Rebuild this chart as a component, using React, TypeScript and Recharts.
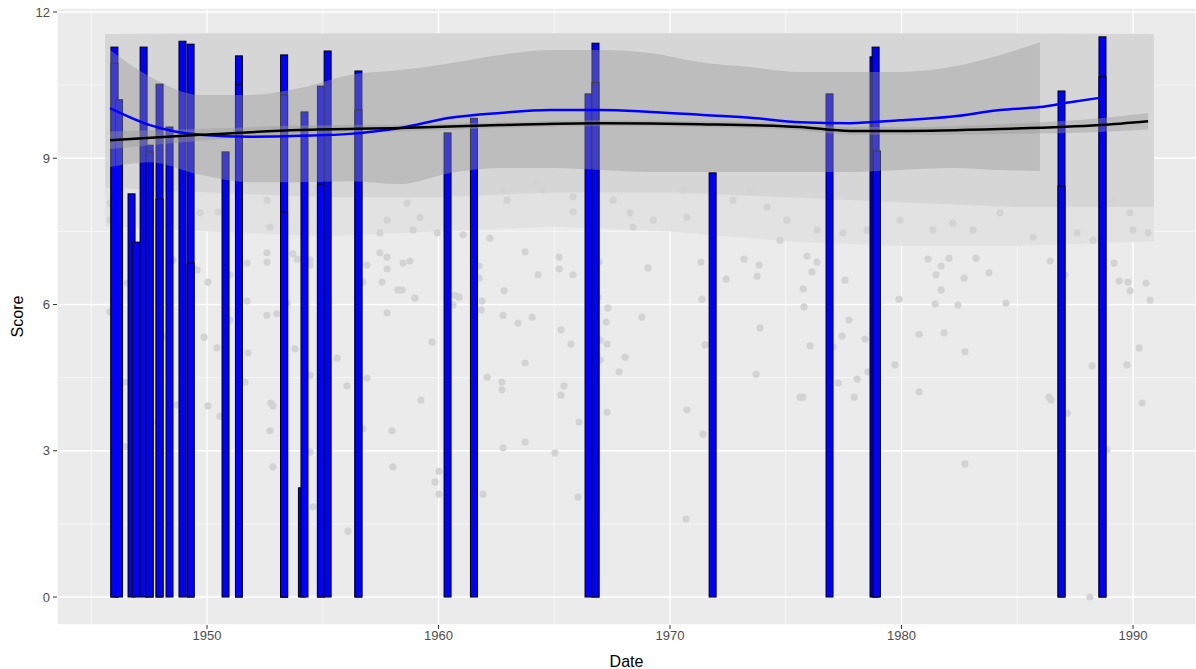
import {
  ComposedChart,
  Bar,
  Line,
  Area,
  Scatter,
  XAxis,
  YAxis,
  CartesianGrid,
} from "recharts";

// bars (geom_col, identity position, overlapping)
const barYears = [
  1946.0, 1946.0, 1946.2, 1946.74, 1946.93, 1947.26, 1947.52, 1947.52, 1947.95, 1947.95,
  1948.38, 1948.94, 1949.29, 1949.29, 1950.8, 1951.38, 1951.38, 1953.33, 1953.33, 1953.33,
  1954.1, 1954.21, 1954.92, 1954.92, 1955.21, 1956.54, 1956.54, 1960.39, 1961.53, 1966.48,
  1966.78, 1966.78, 1971.84, 1976.89, 1978.79, 1978.88, 1978.94, 1986.91, 1986.91, 1988.68,
  1988.68,
];
const barScores = [
  11.28, 10.95, 10.2, 8.27, 7.28, 11.28, 9.27, 9.13, 10.52, 8.16,
  9.64, 11.4, 11.34, 6.85, 9.13, 11.1, 10.52, 11.12, 10.3, 7.9,
  2.24, 9.95, 10.48, 8.47, 11.2, 10.79, 9.99, 9.52, 9.82, 10.32,
  11.36, 10.55, 8.7, 10.32, 11.08, 11.28, 9.15, 10.38, 8.43, 11.49,
  10.67,
];

// dense point cloud envelope
const cloudYears = [1945.6, 1950, 1955, 1960, 1965, 1970, 1975, 1980, 1985, 1990.9];
const cloudTop = [11.55, 11.56, 11.56, 11.56, 11.56, 11.56, 11.56, 11.56, 11.56, 11.55];
const cloudDenseLow = [8.4, 8.3, 8.2, 8.2, 8.3, 8.3, 8.2, 8.1, 8.0, 8.0];
const cloudFringeLow = [7.6, 7.5, 7.4, 7.5, 7.6, 7.5, 7.3, 7.2, 7.2, 7.3];

// points along the lower edge of the cloud [year, score]
const fringePoints: [number, number][] = [
  [1945.81, 8.08], [1945.81, 7.73], [1952.59, 8.14], [1952.72, 7.59], [1957.78, 7.73],
  [1957.47, 7.47], [1949.7, 7.88], [1950.48, 7.9], [1964.25, 8.51], [1964.51, 8.35],
  [1965.81, 8.21], [1965.81, 7.9], [1967.54, 8.14], [1968.27, 7.88], [1968.4, 7.59],
  [1969.27, 7.73], [1970.56, 8.35], [1970.73, 7.79], [1972.72, 8.14], [1973.46, 8.31],
  [1974.19, 8.0], [1974.75, 7.32], [1975.05, 7.73], [1958.64, 8.08], [1959.2, 7.79],
  [1958.9, 7.53], [1959.94, 7.47], [1961.06, 7.43], [1962.22, 7.36], [1962.79, 8.35],
  [1962.96, 8.14], [1966.67, 7.47], [1976.35, 7.53], [1977.47, 7.47], [1978.51, 7.53],
  [1979.94, 7.73], [1981.36, 7.53], [1982.22, 7.67], [1983.09, 7.53], [1984.25, 7.88],
  [1985.68, 7.38], [1987.58, 7.47], [1989.87, 7.88], [1990.0, 7.53], [1990.65, 7.47],
  [1988.27, 7.32], [1989.14, 8.14],
];

// scattered points below the cloud [year, score]
const scatterPoints: [number, number][] = [
  [1952.59, 7.06], [1952.59, 6.87], [1953.71, 7.04], [1953.89, 6.93], [1954.45, 6.91],
  [1954.45, 6.81], [1951.73, 6.85], [1957.47, 7.06], [1957.78, 6.97], [1956.91, 6.81],
  [1957.56, 6.46], [1956.74, 6.46], [1957.78, 6.73], [1958.25, 6.3], [1948.53, 6.91],
  [1949.57, 6.71], [1950.04, 6.46], [1950.99, 6.61], [1950.99, 5.68], [1951.73, 6.07],
  [1952.59, 5.78], [1953.02, 5.81], [1953.46, 6.03], [1957.78, 5.83], [1949.87, 5.33],
  [1950.43, 5.11], [1951.77, 5.01], [1953.8, 5.09], [1955.62, 4.9], [1956.91, 4.49],
  [1956.05, 4.33], [1951.64, 4.41], [1954.45, 4.55], [1952.76, 3.98], [1952.85, 3.92],
  [1950.04, 3.92], [1950.56, 3.71], [1948.7, 3.94], [1952.72, 3.41], [1956.74, 3.45],
  [1957.99, 3.41], [1954.45, 2.97], [1952.85, 2.67], [1958.03, 2.67], [1945.81, 5.85],
  [1946.54, 6.44], [1948.1, 5.33], [1946.46, 4.41], [1947.67, 3.59], [1946.46, 3.08],
  [1954.58, 1.85], [1956.09, 1.35], [1958.47, 6.85], [1958.77, 6.89], [1958.42, 6.3],
  [1958.98, 6.13], [1959.72, 5.23], [1959.24, 4.04], [1960.02, 2.58], [1959.85, 2.36],
  [1960.02, 2.11], [1960.71, 6.19], [1960.89, 6.15], [1960.63, 5.99], [1961.75, 6.79],
  [1961.75, 6.54], [1961.88, 6.07], [1961.84, 5.89], [1962.83, 6.28], [1962.79, 5.78],
  [1963.43, 5.62], [1964.04, 5.74], [1963.74, 4.8], [1962.1, 4.51], [1962.74, 4.41],
  [1962.74, 4.25], [1963.74, 3.18], [1962.79, 3.06], [1961.92, 2.11], [1963.74, 7.08],
  [1964.3, 6.61], [1965.21, 6.97], [1965.21, 6.73], [1965.81, 6.61], [1965.29, 5.48],
  [1965.72, 5.19], [1965.42, 4.33], [1965.29, 4.14], [1966.07, 3.59], [1965.03, 2.95],
  [1966.03, 2.05], [1966.93, 6.87], [1966.89, 6.15], [1967.32, 5.93], [1967.24, 5.64],
  [1966.98, 5.27], [1967.28, 5.19], [1966.98, 4.86], [1968.06, 4.92], [1967.8, 4.62],
  [1967.28, 3.79], [1969.05, 6.75], [1968.79, 5.74], [1971.34, 6.87], [1971.38, 6.11],
  [1971.51, 5.17], [1970.73, 3.84], [1971.43, 3.34], [1973.2, 6.93], [1973.85, 6.81],
  [1973.76, 6.58], [1973.89, 5.52], [1973.72, 4.57], [1972.42, 6.52], [1975.62, 4.1],
  [1970.69, 1.6], [1975.92, 6.99], [1976.35, 6.87], [1976.13, 6.67], [1975.75, 6.32],
  [1975.79, 5.95], [1977.56, 6.5], [1977.73, 5.68], [1977.43, 5.35], [1978.42, 5.29],
  [1976.05, 5.15], [1977.04, 5.13], [1978.55, 4.62], [1978.08, 4.47], [1977.26, 4.39],
  [1975.75, 4.1], [1977.95, 4.1], [1979.89, 6.11], [1980.76, 5.39], [1979.72, 4.76],
  [1980.76, 4.21], [1981.14, 6.93], [1982.05, 6.95], [1981.71, 6.79], [1981.49, 6.61],
  [1981.71, 6.3], [1981.45, 6.01], [1982.44, 5.99], [1981.84, 5.42], [1982.74, 5.03],
  [1982.7, 6.54], [1983.22, 6.95], [1983.78, 6.65], [1984.51, 6.03], [1982.74, 2.73],
  [1986.42, 6.89], [1987.06, 6.61], [1986.37, 4.1], [1986.46, 4.04], [1987.15, 3.77],
  [1988.23, 4.74], [1989.18, 6.85], [1989.4, 6.48], [1989.78, 6.46], [1989.87, 6.28],
  [1990.26, 5.11], [1989.74, 4.76], [1990.39, 3.98], [1988.88, 3.02], [1988.14, 0.0],
  [1990.56, 6.44], [1990.73, 6.09],
];

// loess smooth (blue) with its ribbon
const blueYears = [
  1945.81, 1947.54, 1949.7, 1951.86, 1954.02, 1956.18, 1958.34, 1960.5, 1962.66, 1964.82,
  1966.98, 1969.14, 1971.3, 1973.46, 1975.62, 1977.78, 1979.94, 1982.1, 1984.26, 1985.98,
  1987.28, 1988.57,
];
const blueFit = [
  10.03, 9.68, 9.48, 9.44, 9.46, 9.5, 9.62, 9.83, 9.93, 9.99,
  9.99, 9.95, 9.89, 9.83, 9.74, 9.72, 9.78, 9.85, 9.99, 10.05,
  10.15, 10.24,
];
const blueHigh = [
  11.22, 10.67, 10.3, 10.3, 10.44, 10.71, 10.81, 10.95, 11.12, 11.22,
  11.22, 11.16, 10.97, 10.87, 10.77, 10.77, 10.77, 10.87, 11.12, 11.38,
];
const blueLow = [
  8.82, 8.92, 8.66, 8.51, 8.51, 8.53, 8.47, 8.7, 8.8, 8.8,
  8.76, 8.72, 8.72, 8.72, 8.72, 8.72, 8.76, 8.8, 8.76, 8.74,
];

// wider smooth (black) with narrow ribbon
const blackYears = [
  1945.81, 1949.7, 1954.02, 1958.34, 1962.66, 1966.98, 1971.3, 1975.62, 1977.78, 1979.94,
  1984.26, 1988.57, 1990.65,
];
const blackFit = [9.37, 9.48, 9.58, 9.62, 9.68, 9.72, 9.7, 9.64, 9.56, 9.56, 9.6, 9.68, 9.76];
const blackHalf = [0.18, 0.12, 0.09, 0.07, 0.06, 0.06, 0.06, 0.07, 0.08, 0.08, 0.1, 0.14, 0.17];

const xTicks = [1950, 1960, 1970, 1980, 1990];
const xMinor = [1945, 1955, 1965, 1975, 1985];
const yTicks = [0, 3, 6, 9, 12];
const yMinor = [1.5, 4.5, 7.5, 10.5];

const barData = barYears.map((year, i) => ({ year, score: barScores[i] }));
const cloudData = cloudYears.map((year, i) => ({
  year,
  dense: [cloudDenseLow[i], cloudTop[i]],
  fringe: [cloudFringeLow[i], cloudTop[i]],
}));
const pointData = [...fringePoints, ...scatterPoints].map(([year, score]) => ({ year, score }));
const blueLineData = blueYears.map((year, i) => ({ year, fit: blueFit[i] }));
const blueBandData = blueHigh.map((hi, i) => ({ year: blueYears[i], band: [blueLow[i], hi] }));
const blackLineData = blackYears.map((year, i) => ({ year, fit: blackFit[i] }));
const blackBandData = blackYears.map((year, i) => ({
  year,
  band: [blackFit[i] - blackHalf[i], blackFit[i] + blackHalf[i]],
}));

const font = "'Liberation Sans', Arial, sans-serif";
const BAR_PX = 7;

const Dot = (props: any) => <circle cx={props.cx} cy={props.cy} r={3.6} fill="#D3D3D3" />;

// bars sit on a numeric axis with repeated x values, so recharts gives them no band;
// keep its x centre / y / height and draw a fixed-width column around it
const Column = (props: any) => {
  const { x, y, width, height } = props;
  if (height == null || isNaN(height)) return null;
  const cx = x + (width || 0) / 2;
  return (
    <rect
      x={cx - BAR_PX / 2}
      y={y}
      width={BAR_PX}
      height={height}
      fill="#0000FF"
      stroke="#000000"
      strokeWidth={1}
    />
  );
};

export default function App() {
  return (
    <div style={{ position: "absolute", left: 0, top: 0, width: 1196, height: 669, background: "#fff", fontFamily: font }}>
      <ComposedChart
        width={1196}
        height={669}
        data={barData}
        margin={{ top: 8, right: 0, bottom: 0, left: 0 }}
      >
        <CartesianGrid
          fill="#EBEBEB"
          stroke="#FFFFFF"
          strokeWidth={0.6}
          verticalValues={xMinor}
          horizontalValues={yMinor}
        />
        <CartesianGrid stroke="#FFFFFF" strokeWidth={1.3} fill="none" />
        <XAxis
          type="number"
          dataKey="year"
          domain={[1943.52, 1992.72]}
          allowDataOverflow
          ticks={xTicks}
          height={44}
          axisLine={false}
          tickLine={{ stroke: "#333333" }}
          tickSize={4}
          tickMargin={2}
          tick={{ fill: "#4D4D4D", fontSize: 13, fontFamily: font }}
          label={{ value: "Date", position: "insideBottom", offset: 2, fill: "#000", fontSize: 16, fontFamily: font }}
        />
        <YAxis
          type="number"
          dataKey="score"
          domain={[-0.574, 12.082]}
          allowDataOverflow
          ticks={yTicks}
          width={57}
          axisLine={false}
          tickLine={{ stroke: "#333333" }}
          tickSize={4}
          tickMargin={3}
          tick={{ fill: "#4D4D4D", fontSize: 13, fontFamily: font }}
          label={{
            value: "Score",
            angle: -90,
            position: "insideLeft",
            offset: 17,
            fill: "#000",
            fontSize: 16,
            fontFamily: font,
            style: { textAnchor: "middle" },
          }}
        />
        <Area
          data={cloudData}
          dataKey="fringe"
          type="linear"
          fill="#E2E2E2"
          fillOpacity={1}
          stroke="none"
          isAnimationActive={false}
          zIndex={50}
        />
        <Area
          data={cloudData}
          dataKey="dense"
          type="linear"
          fill="#D6D6D6"
          fillOpacity={1}
          stroke="none"
          isAnimationActive={false}
          zIndex={51}
        />
        <Scatter data={pointData} dataKey="score" shape={Dot} isAnimationActive={false} zIndex={60} />
        <Bar
          dataKey="score"
          shape={Column}
          fill="#0000FF"
          stroke="#000000"
          isAnimationActive={false}
          zIndex={300}
        />
        <Area
          data={blueBandData}
          dataKey="band"
          type="monotone"
          fill="#999999"
          fillOpacity={0.4}
          stroke="none"
          isAnimationActive={false}
          zIndex={350}
        />
        <Area
          data={blackBandData}
          dataKey="band"
          type="monotone"
          fill="#999999"
          fillOpacity={0.4}
          stroke="none"
          isAnimationActive={false}
          zIndex={351}
        />
        <Line
          data={blueLineData}
          dataKey="fit"
          type="monotone"
          stroke="#0000FF"
          strokeWidth={2.5}
          dot={false}
          isAnimationActive={false}
          zIndex={400}
        />
        <Line
          data={blackLineData}
          dataKey="fit"
          type="monotone"
          stroke="#000000"
          strokeWidth={2.5}
          dot={false}
          isAnimationActive={false}
          zIndex={401}
        />
      </ComposedChart>
    </div>
  );
}
